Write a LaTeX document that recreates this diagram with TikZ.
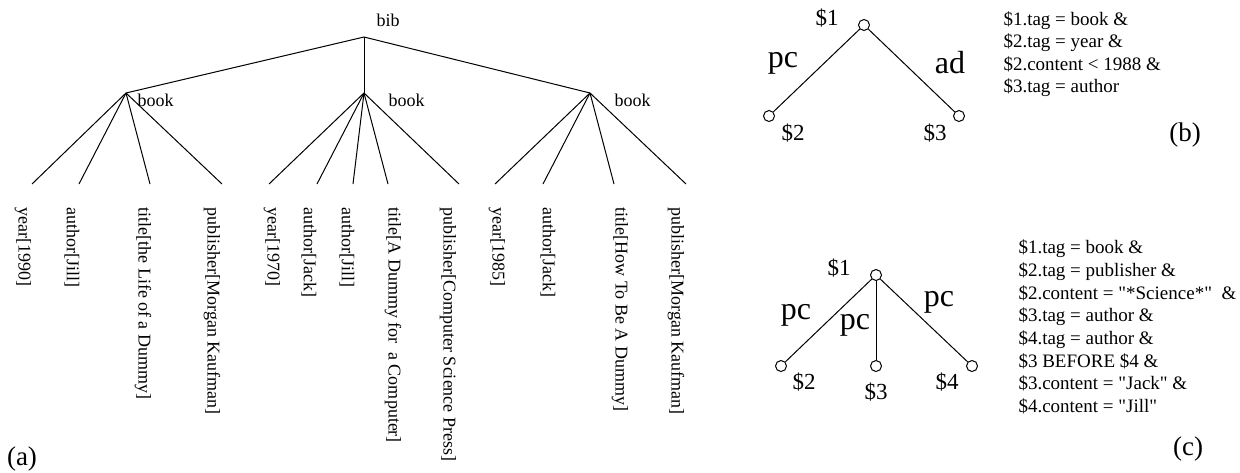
\documentclass[tikz,border=0pt]{standalone}
\usepackage{fontspec}
\setmainfont{Liberation Serif}
\begin{document}
\begin{tikzpicture}[x=0.5pt, y=-0.5pt, line width=0.5pt,
  leaf/.style={rotate=-90, anchor=west, inner sep=0pt, font=\fontsize{9}{11}\selectfont},
  elem/.style={inner sep=0pt, font=\fontsize{9}{11}\selectfont},
  pt/.style={draw, circle, minimum size=5.5pt, inner sep=0pt},
  var/.style={inner sep=0pt, font=\fontsize{11.5}{13}\selectfont},
  rel/.style={inner sep=0pt, font=\fontsize{16}{18}\selectfont},
  panel/.style={inner sep=0pt, font=\fontsize{13.5}{15}\selectfont}]
\useasboundingbox (0,0) rectangle (1240,472);

% (a) document tree
\coordinate (bib) at (364,37);
\coordinate (bk1) at (126,93);
\coordinate (bk2) at (364,93);
\coordinate (bk3) at (590,93);
\node[elem] (bibl) at (388,20) {bib};
\node[elem, anchor=west] (bk1l) at (137,100) {book};
\node[elem, anchor=west] (bk2l) at (388,100) {book};
\node[elem, anchor=west] (bk3l) at (614,100) {book};

\draw (bib) -- (bk1);
\draw (bib) -- (bk2);
\draw (bib) -- (bk3);

\coordinate (l1) at (32,184);
\coordinate (l2) at (79,184);
\coordinate (l3) at (150,184);
\coordinate (l4) at (222,184);
\coordinate (l5) at (269,184);
\coordinate (l6) at (317,184);
\coordinate (l7) at (353,184);
\coordinate (l8) at (388,184);
\coordinate (l9) at (459,184);
\coordinate (l10) at (495,184);
\coordinate (l11) at (543,184);
\coordinate (l12) at (614,184);
\coordinate (l13) at (686,184);

\draw (bk1) -- (l1);
\draw (bk1) -- (l2);
\draw (bk1) -- (l3);
\draw (bk1) -- (l4);
\draw (bk2) -- (l5);
\draw (bk2) -- (l6);
\draw (bk2) -- (l7);
\draw (bk2) -- (l8);
\draw (bk2) -- (l9);
\draw (bk3) -- (l10);
\draw (bk3) -- (l11);
\draw (bk3) -- (l12);
\draw (bk3) -- (l13);

\node[leaf] (t1) at (23,207) {year[1990]};
\node[leaf] (t2) at (72,207) {author[Jill]};
\node[leaf] (t3) at (143,207) {title[the Life of a Dummy]};
\node[leaf] (t4) at (212,207) {publisher[Morgan Kaufman]};
\node[leaf] (t5) at (272,207) {year[1970]};
\node[leaf] (t6) at (309,207) {author[Jack]};
\node[leaf] (t7) at (347,207) {author[Jill]};
\node[leaf] (t8) at (393,207) {title[A Dummy for\ \ a Computer]};
\node[leaf] (t9) at (448,207) {publisher[Computer Science Press]};
\node[leaf] (t10) at (497,207) {year[1985]};
\node[leaf] (t11) at (548,207) {author[Jack]};
\node[leaf] (t12) at (620,207) {title[How To Be A Dummy]};
\node[leaf] (t13) at (676,207) {publisher[Morgan Kaufman]};

\node[panel] (capa) at (22,459) {(a)};

% (b) query pattern
\node[pt] (b1) at (864,25) {};
\node[pt] (b2) at (769,116) {};
\node[pt] (b3) at (959,116) {};
\draw (b1) -- (b2);
\draw (b1) -- (b3);
\node[var] (b1l) at (827,18) {\$1};
\node[var] (b2l) at (793,133) {\$2};
\node[var] (b3l) at (935,133) {\$3};
\node[rel] (b12) at (783,63) {pc};
\node[rel] (b13) at (950,63) {ad};
\node[anchor=west, align=left, inner sep=0pt, font=\fontsize{9.5}{11.2}\selectfont] (bcond) at (1003,54)
  {\$1.tag = book \&\\ \$2.tag = year \&\\ \$2.content < 1988 \&\\ \$3.tag = author};
\node[panel] (capb) at (1185,135) {(b)};

% (c) query pattern
\node[pt] (c1) at (876,275) {};
\node[pt] (c2) at (781,366) {};
\node[pt] (c3) at (876,366) {};
\node[pt] (c4) at (972,366) {};
\draw (c1) -- (c2);
\draw (c1) -- (c3);
\draw (c1) -- (c4);
\node[var] (c1l) at (839,268) {\$1};
\node[var] (c2l) at (804,382) {\$2};
\node[var] (c3l) at (876,392) {\$3};
\node[var] (c4l) at (947,382) {\$4};
\node[rel] (c12) at (796,315) {pc};
\node[rel] (c13) at (855,325) {pc};
\node[rel] (c14) at (939,302) {pc};
\node[anchor=west, align=left, inner sep=0pt, font=\fontsize{9.5}{11.35}\selectfont] (ccond) at (1018,327)
  {\$1.tag = book \&\\ \$2.tag = publisher \&\\ \$2.content = \textquotedbl*Science*\textquotedbl\ \ \&\\ \$3.tag = author \&\\
   \$4.tag = author \&\\ \$3 BEFORE \$4 \&\\ \$3.content = \textquotedbl Jack\textquotedbl\ \&\\ \$4.content = \textquotedbl Jill\textquotedbl};
\node[panel] (capc) at (1188,449) {(c)};
\end{tikzpicture}
\end{document}
